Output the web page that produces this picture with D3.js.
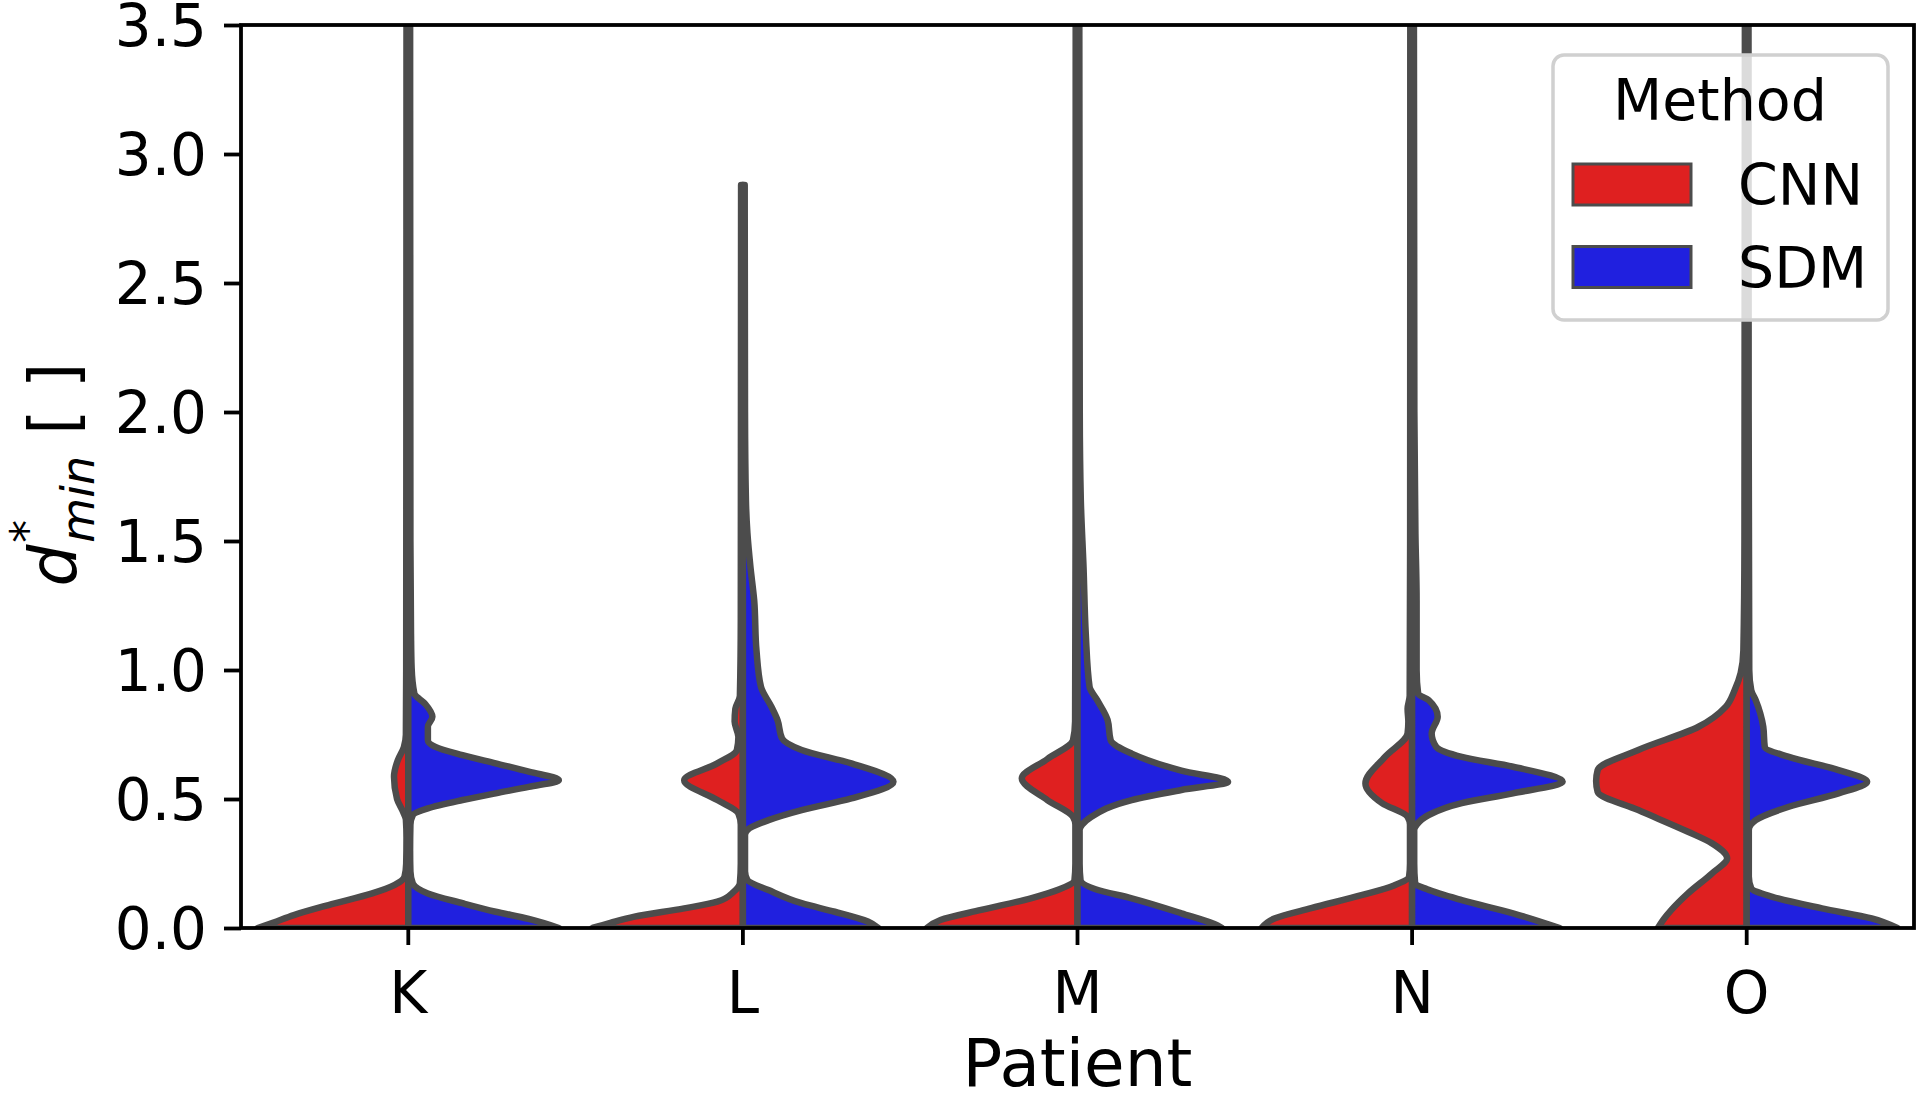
<!DOCTYPE html>
<html>
<head>
<meta charset="utf-8">
<script src="https://cdn.jsdelivr.net/npm/d3@7"></script>
<style>
  html, body { margin: 0; padding: 0; background: #ffffff; }
  svg { display: block; font-family: "DejaVu Sans", sans-serif; }
</style>
</head>
<body>
<svg id="chart" width="1920" height="1103"></svg>
<script>
// ---------------- data ----------------
const patients = ["K", "L", "M", "N", "O"];
const methods = ["CNN", "SDM"];
const yTicks = [0, 0.5, 1.0, 1.5, 2.0, 2.5, 3.0, 3.5];
const xLabel = "Patient";
const legendTitle = "Method";

// density profiles: [value, relative half-width]
const cnnK = [[0,1.0],[0.02,0.9],[0.05,0.76],[0.089,0.53],[0.134,0.24],[0.167,0.09],[0.199,0.025],[0.25,0.014],[0.35,0.012],[0.42,0.016],[0.45,0.035],[0.5,0.075],[0.586,0.095],[0.65,0.07],[0.70,0.03],[0.75,0.016],[1.0,0.014],[2.0,0.013],[3.6,0.012]];
const sdmK = [[0,1.0],[0.035,0.8],[0.063,0.58],[0.096,0.36],[0.134,0.13],[0.173,0.03],[0.22,0.014],[0.3,0.012],[0.4,0.014],[0.438,0.03],[0.464,0.13],[0.496,0.36],[0.522,0.58],[0.547,0.8],[0.573,1.0],[0.606,0.8],[0.638,0.58],[0.670,0.36],[0.702,0.18],[0.728,0.13],[0.780,0.13],[0.819,0.16],[0.870,0.11],[0.909,0.04],[1.01,0.022],[1.14,0.018],[1.5,0.014],[3.6,0.012]];

const cnnL = [[0,1.0],[0.02,0.88],[0.044,0.72],[0.076,0.39],[0.102,0.17],[0.141,0.06],[0.173,0.02],[0.25,0.014],[0.4,0.014],[0.444,0.03],[0.496,0.17],[0.573,0.39],[0.638,0.17],[0.69,0.04],[0.74,0.03],[0.8,0.055],[0.85,0.05],[0.9,0.02],[1.2,0.014],[2.0,0.013],[2.88,0.012]];
const sdmL = [[0,0.9],[0.025,0.83],[0.063,0.61],[0.096,0.39],[0.147,0.17],[0.186,0.03],[0.22,0.014],[0.36,0.014],[0.38,0.03],[0.418,0.17],[0.457,0.39],[0.502,0.72],[0.567,1.0],[0.638,0.72],[0.69,0.39],[0.735,0.26],[0.806,0.23],[0.857,0.19],[0.935,0.12],[1.077,0.09],[1.27,0.075],[1.40,0.05],[1.53,0.03],[1.66,0.02],[2.0,0.014],[2.88,0.012]];

const cnnM = [[0,1.0],[0.031,0.91],[0.070,0.64],[0.115,0.31],[0.15,0.12],[0.186,0.02],[0.25,0.014],[0.40,0.014],[0.431,0.03],[0.496,0.2],[0.58,0.37],[0.655,0.2],[0.728,0.03],[0.8,0.016],[1.5,0.013],[3.6,0.012]];
const sdmM = [[0,0.96],[0.01,0.93],[0.057,0.69],[0.115,0.36],[0.15,0.12],[0.186,0.02],[0.25,0.014],[0.38,0.014],[0.40,0.03],[0.43,0.09],[0.496,0.36],[0.535,0.69],[0.567,1.0],[0.61,0.69],[0.676,0.36],[0.728,0.22],[0.806,0.2],[0.884,0.13],[0.935,0.08],[1.14,0.055],[1.40,0.04],[1.66,0.022],[2.0,0.015],[3.6,0.012]];

const cnnN = [[0,1.0],[0.038,0.91],[0.077,0.67],[0.128,0.33],[0.165,0.12],[0.199,0.02],[0.25,0.014],[0.40,0.014],[0.431,0.03],[0.484,0.2],[0.56,0.31],[0.663,0.18],[0.754,0.03],[0.8,0.025],[0.85,0.03],[0.9,0.016],[1.5,0.013],[3.6,0.012]];
const sdmN = [[0,0.98],[0.057,0.67],[0.108,0.33],[0.15,0.1],[0.173,0.02],[0.25,0.014],[0.38,0.014],[0.40,0.03],[0.438,0.11],[0.484,0.33],[0.522,0.67],[0.567,1.0],[0.625,0.67],[0.663,0.33],[0.702,0.16],[0.754,0.13],[0.819,0.17],[0.883,0.11],[0.909,0.04],[1.0,0.03],[1.27,0.03],[1.53,0.022],[2.0,0.015],[3.6,0.012]];

const cnnO = [[0,0.59],[0.035,0.55],[0.070,0.5],[0.134,0.39],[0.212,0.23],[0.27,0.13],[0.328,0.23],[0.373,0.39],[0.457,0.72],[0.528,0.99],[0.57,1.0],[0.612,0.99],[0.69,0.72],[0.78,0.32],[0.857,0.14],[0.922,0.08],[0.988,0.04],[1.077,0.022],[1.5,0.015],[3.6,0.012]];
const sdmO = [[0,1.0],[0.037,0.83],[0.076,0.5],[0.121,0.17],[0.154,0.03],[0.2,0.014],[0.38,0.014],[0.418,0.06],[0.47,0.28],[0.522,0.61],[0.567,0.8],[0.612,0.61],[0.663,0.28],[0.702,0.12],[0.78,0.11],[0.832,0.09],[0.883,0.06],[0.922,0.03],[1.0,0.017],[2.0,0.013],[3.6,0.012]];

const cnnProfiles = [cnnK, cnnL, cnnM, cnnN, cnnO];
const sdmProfiles = [sdmK, sdmL, sdmM, sdmN, sdmO];

// ---------------- style ----------------
const colors = { CNN: "#df2020", SDM: "#2020df" };
const edgeGray = "#4c4c4c";
const tickFont = 58, labelFont = 66, legendFont = 57;

// ---------------- layout ----------------
const L = 241, R = 1914, T = 25, B = 928;
const svg = d3.select("#chart");

const x = d3.scaleBand().domain(patients).range([L, R]).padding(0);
const y = d3.scaleLinear().domain([0, 3.5]).range([B, T]);
const w = d3.scaleLinear().domain([0, 1]).range([0, x.bandwidth() * 0.45]);

svg.append("defs").append("clipPath").attr("id", "plotclip")
  .append("rect").attr("x", L).attr("y", T).attr("width", R - L).attr("height", B - T);

const plot = svg.append("g").attr("clip-path", "url(#plotclip)");

patients.forEach((p, i) => {
  const cx = x(p) + x.bandwidth() / 2;
  const halves = [
    { m: "CNN", data: cnnProfiles[i], sign: -1 },
    { m: "SDM", data: sdmProfiles[i], sign: 1 }
  ];
  halves.forEach(h => {
    const sorted = h.data.slice().sort((a, b) => b[0] - a[0]);
    const area = d3.area()
      .y(d => y(d[0]))
      .x0(cx)
      .x1(d => cx + h.sign * w(d[1]))
      .curve(d3.curveMonotoneY);
    plot.append("path")
      .attr("d", area(sorted))
      .attr("fill", colors[h.m])
      .attr("stroke", edgeGray)
      .attr("stroke-width", 6.5)
      .attr("stroke-linejoin", "round");
  });
});

// ---------------- axes ----------------
const yAxis = svg.append("g").attr("transform", `translate(${L},0)`)
  .call(d3.axisLeft(y).tickValues(yTicks).tickFormat(d3.format(".1f")).tickSize(17).tickPadding(17));
yAxis.select(".domain").remove();
yAxis.selectAll(".tick line").attr("stroke", "#000").attr("stroke-width", 3.8);
yAxis.selectAll(".tick text").attr("font-size", tickFont).attr("fill", "#000")
  .attr("font-family", "DejaVu Sans").attr("dy", "0.36em");

const xAxis = svg.append("g").attr("transform", `translate(0,${B})`)
  .call(d3.axisBottom(x).tickSize(17).tickPadding(17));
xAxis.select(".domain").remove();
xAxis.selectAll(".tick line").attr("stroke", "#000").attr("stroke-width", 3.8);
xAxis.selectAll(".tick text").attr("font-size", tickFont).attr("fill", "#000")
  .attr("font-family", "DejaVu Sans").attr("y", 85).attr("dy", 0);

// frame
svg.append("rect").attr("x", L).attr("y", T).attr("width", R - L).attr("height", B - T)
  .attr("fill", "none").attr("stroke", "#000").attr("stroke-width", 3.8);

// x label
svg.append("text").attr("x", (L + R) / 2).attr("y", 1086)
  .attr("text-anchor", "middle").attr("font-size", labelFont).attr("fill", "#000")
  .text(xLabel);

// y label: d*_min [ ]
const yl = svg.append("text")
  .attr("transform", `translate(76,${(T + B) / 2 - 2}) rotate(-90)`)
  .attr("text-anchor", "middle").attr("font-size", labelFont).attr("fill", "#000");
yl.append("tspan").attr("font-style", "italic").text("d");
yl.append("tspan").attr("font-size", 46).attr("dy", -33).attr("dx", 2).text("*");
yl.append("tspan").attr("font-size", 46).attr("font-style", "italic").attr("dx", -23).attr("dy", 51).text("min");
yl.append("tspan").attr("dy", -18).text("\u00a0[ ]");

// ---------------- legend ----------------
const lg = svg.append("g");
lg.append("rect").attr("x", 1553).attr("y", 55).attr("width", 335).attr("height", 265)
  .attr("rx", 11).attr("fill", "#ffffff").attr("fill-opacity", 0.8)
  .attr("stroke", "#d0d0d0").attr("stroke-width", 3.5);
lg.append("text").attr("x", 1720).attr("y", 120).attr("text-anchor", "middle")
  .attr("font-size", legendFont).attr("fill", "#000").text(legendTitle);
methods.forEach((m, i) => {
  const yy = 164 + i * 82.5;
  lg.append("rect").attr("x", 1573).attr("y", yy).attr("width", 118).attr("height", 41)
    .attr("fill", colors[m]).attr("stroke", edgeGray).attr("stroke-width", 3);
  lg.append("text").attr("x", 1738).attr("y", yy + 41).attr("font-size", legendFont)
    .attr("fill", "#000").text(m);
});
</script>
</body>
</html>
